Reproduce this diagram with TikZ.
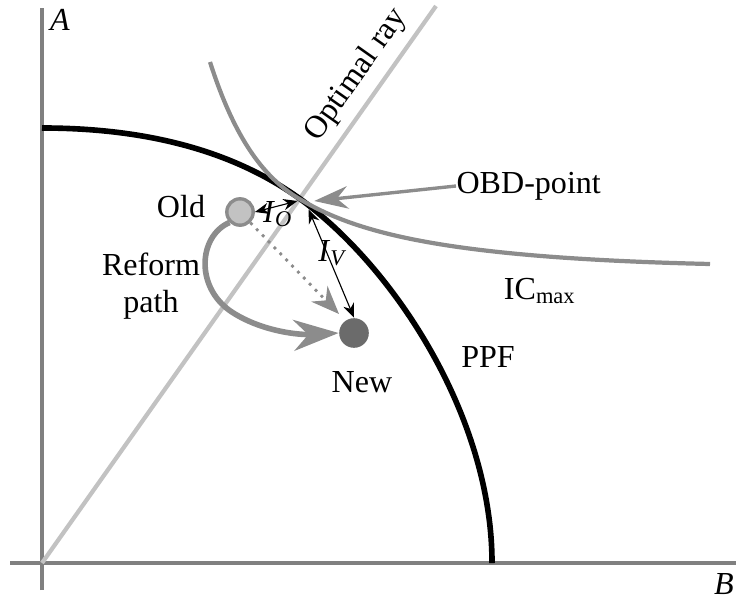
\documentclass[tikz,border=0pt]{standalone}
\usepackage{fontspec}
\setmainfont{Liberation Serif}
\usetikzlibrary{arrows.meta}
\definecolor{axisgray}{gray}{0.5}
\definecolor{raygray}{gray}{0.76}
\definecolor{icgray}{gray}{0.55}
\definecolor{newgray}{gray}{0.42}
\begin{document}
\begin{tikzpicture}[x=0.0125cm,y=-0.0125cm,font=\fontsize{11.4}{13}\selectfont,
        label/.style={inner sep=0pt,align=center,text=black},
        gap/.style={{Stealth[length=5pt,width=4pt]}-{Stealth[length=5pt,width=4pt]},line width=0.4pt}]
        \useasboundingbox (0,0) rectangle (736,596);

        %%%%%%%%%% Axes %%%%%%%%%%
        \coordinate (O) at (42,563);
        \coordinate (Atop) at (42,8);
        \coordinate (Aend) at (42,590);
        \coordinate (Bleft) at (10,563);
        \coordinate (Bend) at (736,563);
        \draw[axisgray,line width=1.1pt] (Aend) -- (Atop);
        \draw[axisgray,line width=1.1pt] (Bleft) -- (Bend);
        \node[label] (A) at (60,20) {\textit{A}};
        \node[label] (B) at (724,584) {\textit{B}};

        %%%%%%% Optimal ray %%%%%%%
        \coordinate (Rend) at (436,6);
        \draw[raygray,line width=1.5pt] (O) -- (Rend)
            node[label,pos=0.85,sloped,above=3pt] (Ray) {Optimal ray};

        %%%%%%%%%% PPF %%%%%%%%%%%
        \coordinate (OBD) at (303,201);
        \draw[line width=2pt] (42,128) .. controls (180,128) and (258,168) .. (OBD)
            .. controls (398,272) and (492,420) .. (492,563);
        \node[label] (PPF) at (488,357) {PPF};

        %%%%%%%%% IC max %%%%%%%%%
        \draw[icgray,line width=1.5pt] (210,62) .. controls (235,140) and (265,180) .. (OBD)
            .. controls (360,234) and (450,258) .. (710,264);
        \node[label] (IC) at (540,291) {IC\textsubscript{max}};

        %%%%%%%%% OBD-point %%%%%%%%
        \node[label,anchor=west] (OBDtxt) at (456,186) {OBD-point};
        \draw[icgray,line width=1.2pt,-{Stealth[length=12pt,width=8pt]}] (OBDtxt.west) -- ([xshift=4pt]OBD);

        %%%%%%%% Old / New %%%%%%%%
        \node[circle,draw=icgray,fill=raygray,line width=1.2pt,minimum size=0.33cm,inner sep=0pt] (Old) at (240,212) {};
        \node[circle,fill=newgray,minimum size=0.37cm,inner sep=0pt] (New) at (354,333) {};
        \node[label] (OldL) at (181,207) {Old};
        \node[label] (NewL) at (362,382) {New};
        \node[label] (Path) at (151,286) {Reform\\path};

        %%%%%%%%% Moves %%%%%%%%%%
        \coordinate (DotEnd) at (339,314);
        \draw[icgray,line width=1pt,dotted,-{Stealth[length=10pt,width=8pt]}] (Old) -- (DotEnd);
        \draw[icgray,line width=2pt,-{Stealth[length=16pt,width=11pt]}] (Old.south west)
            .. controls (198,236) and (194,290) .. (235,314)
            .. controls (265,332) and (300,335) .. (New.west);

        %%%%%%%% Distances %%%%%%%%
        \draw[gap] (Old.east) -- ([xshift=-2pt]OBD);
        \draw[gap] ([xshift=2pt,yshift=-3pt]OBD) -- (New.north);
        \node[label] (IO) at (278,214) {\textit{I}\textsubscript{\textit{O}}};
        \node[label] (IV) at (333,253) {\textit{I}\textsubscript{\textit{V}}};
    \end{tikzpicture}
\end{document}
